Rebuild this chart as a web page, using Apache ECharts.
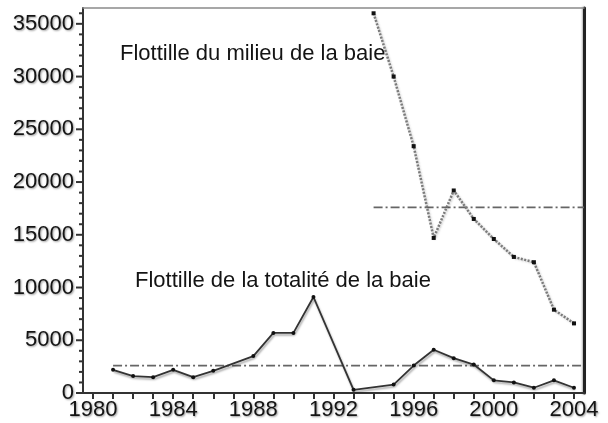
<!DOCTYPE html>
<html>
<head>
<meta charset="utf-8">
<script src="https://cdn.jsdelivr.net/npm/echarts@6/dist/echarts.min.js"></script>
<style>
  html, body { margin: 0; padding: 0; background: #fff; }
  #chart { width: 608px; height: 423px; }
</style>
</head>
<body>
<div id="chart"></div>
<script>
// Fleet of the whole bay (years without a recorded value are skipped)
const totalYears = [1981, 1982, 1983, 1984, 1985, 1986, 1988, 1989, 1990, 1991, 1993, 1995, 1996, 1997, 1998, 1999, 2000, 2001, 2002, 2003, 2004];
const totalValues = [2200, 1600, 1500, 2200, 1500, 2100, 3500, 5700, 5700, 9100, 300, 800, 2600, 4100, 3300, 2700, 1200, 1000, 500, 1200, 500];

// Fleet of the middle of the bay
const middleYears = [1994, 1995, 1996, 1997, 1998, 1999, 2000, 2001, 2002, 2003, 2004];
const middleValues = [36000, 30000, 23400, 14700, 19200, 16500, 14600, 12900, 12400, 7900, 6600];

// Period means (start year of each period, mean value)
const totalMeanStart = 1981;
const totalMean = 2600;
const middleMeanStart = 1994;
const middleMean = 17600;

// Axis ticks and labels
const yearTicks = [1980, 1981, 1982, 1983, 1984, 1985, 1986, 1987, 1988, 1989, 1990, 1991, 1992, 1993, 1994, 1995, 1996, 1997, 1998, 1999, 2000, 2001, 2002, 2003, 2004];
const yearLabels = [1980, 1984, 1988, 1992, 1996, 2000, 2004];
const valueLabels = [0, 5000, 10000, 15000, 20000, 25000, 30000, 35000];
const valueMinorTicks = [1000, 2000, 3000, 4000, 6000, 7000, 8000, 9000, 11000, 12000, 13000, 14000,
  16000, 17000, 18000, 19000, 21000, 22000, 23000, 24000, 26000, 27000, 28000, 29000,
  31000, 32000, 33000, 34000, 36000];

const labelTexts = {
  middle: 'Flottille du milieu de la baie',
  total: 'Flottille de la totalité de la baie'
};

const xMin = 1979.5, xMax = 2004.5;
const yMin = 0, yMax = 36500;

const FONT = "'Liberation Sans', Arial, sans-serif";
const zip = (xs, ys) => xs.map((x, i) => [x, ys[i]]);

const chart = echarts.init(document.getElementById('chart'), null, { renderer: 'canvas' });

const axisText = {
  fontFamily: FONT,
  fontSize: 22,
  color: '#141414',
  textShadowColor: 'rgba(0,0,0,0.4)',
  textShadowBlur: 2,
  textShadowOffsetX: 1,
  textShadowOffsetY: 1
};

const noteStyle = {
  font: '22px ' + FONT, fill: '#141414',
  shadowColor: 'rgba(0,0,0,0.4)', shadowBlur: 2, shadowOffsetX: 1, shadowOffsetY: 1
};

// Y-axis tick marks: [x at the axis, value, tick length]
const yTickData = valueLabels.map(v => [xMin, v, 7]).concat(valueMinorTicks.map(v => [xMin, v, 4]));

chart.setOption({
  animation: false,
  backgroundColor: '#ffffff',
  grid: { left: 83, right: 24, top: 8, bottom: 30 },
  xAxis: [
    {
      type: 'value', min: xMin, max: xMax,
      axisLine: { show: true, onZero: false, lineStyle: { color: '#333', width: 2 } },
      axisTick: { show: true, customValues: yearTicks, length: 6, lineStyle: { color: '#333', width: 2 } },
      axisLabel: Object.assign({ customValues: yearLabels, margin: 6, formatter: v => String(v) }, axisText),
      splitLine: { show: false }
    },
    {
      type: 'value', min: xMin, max: xMax, position: 'top',
      axisLine: { show: true, onZero: false, lineStyle: { color: '#8a8a8a', width: 1.5 } },
      axisTick: { show: false }, axisLabel: { show: false }, splitLine: { show: false }
    }
  ],
  yAxis: [
    {
      type: 'value', min: yMin, max: yMax, interval: 5000,
      axisLine: { show: true, onZero: false, lineStyle: { color: '#333', width: 2 } },
      axisTick: { show: false },
      axisLabel: Object.assign({
        showMaxLabel: false,
        margin: 9,
        formatter: v => (valueLabels.indexOf(v) >= 0 ? String(v) : '')
      }, axisText),
      splitLine: { show: false }
    },
    {
      type: 'value', min: yMin, max: yMax, position: 'right',
      axisLine: { show: true, onZero: false, lineStyle: { color: '#222', width: 3, shadowColor: 'rgba(0,0,0,0.3)', shadowBlur: 2, shadowOffsetX: -1 } },
      axisTick: { show: false }, axisLabel: { show: false }, splitLine: { show: false }
    }
  ],
  graphic: [
    { type: 'text', left: 120, top: 43, style: Object.assign({ text: labelTexts.middle }, noteStyle) },
    { type: 'text', left: 135, top: 270, style: Object.assign({ text: labelTexts.total }, noteStyle) }
  ],
  series: [
    {
      name: 'graduations', type: 'custom', silent: true, clip: false,
      data: yTickData,
      encode: { x: 0, y: 1 },
      renderItem: (params, api) => {
        const p = api.coord([api.value(0), api.value(1)]);
        const len = api.value(2);
        return {
          type: 'line',
          shape: { x1: p[0] - len, y1: p[1], x2: p[0], y2: p[1] },
          style: { stroke: '#333', lineWidth: 2 }
        };
      }
    },
    {
      name: 'moyenne milieu', type: 'line', symbol: 'none', silent: true,
      data: [[middleMeanStart, middleMean], [xMax, middleMean]],
      lineStyle: { color: '#666', width: 1.6, type: [9, 3, 2, 3] }
    },
    {
      name: 'moyenne totalité', type: 'line', symbol: 'none', silent: true,
      data: [[totalMeanStart, totalMean], [xMax, totalMean]],
      lineStyle: { color: '#666', width: 1.6, type: [9, 3, 2, 3] }
    },
    {
      name: labelTexts.middle, type: 'line',
      data: zip(middleYears, middleValues),
      symbol: 'rect', symbolSize: 4, itemStyle: { color: '#111' },
      lineStyle: {
        color: '#7a7a7a', width: 2.5, type: [2, 1.5],
        shadowColor: 'rgba(0,0,0,0.25)', shadowBlur: 2, shadowOffsetX: 1, shadowOffsetY: 1
      }
    },
    {
      name: labelTexts.total, type: 'line',
      data: zip(totalYears, totalValues),
      symbol: 'circle', symbolSize: 4, itemStyle: { color: '#111' },
      lineStyle: {
        color: '#333', width: 1.8,
        shadowColor: 'rgba(0,0,0,0.35)', shadowBlur: 2, shadowOffsetX: 1, shadowOffsetY: 2
      }
    }
  ]
});
</script>
</body>
</html>
